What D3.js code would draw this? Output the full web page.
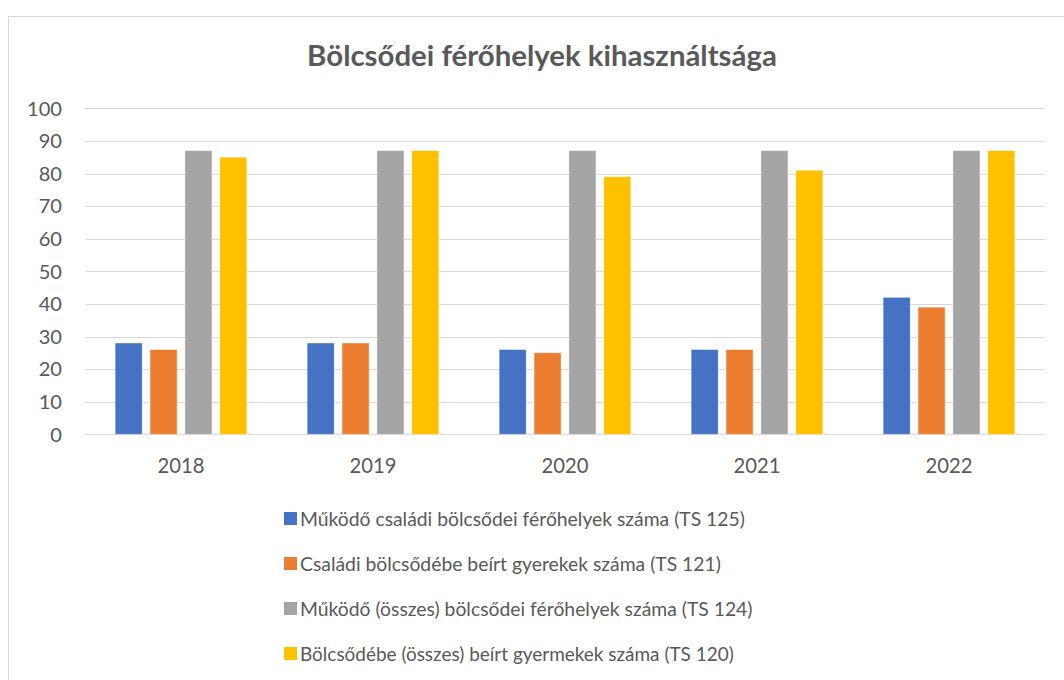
<!DOCTYPE html>
<html><head><meta charset="utf-8">
<script src="https://cdn.jsdelivr.net/npm/d3@7"></script>
<style>body{margin:0;background:#fff}svg{display:block}text{font-family:Lato,"Open Sans",sans-serif;fill:#595959}</style>
</head><body>
<script>
const years = ["2018","2019","2020","2021","2022"];
const seriesNames = [
  "Működő családi bölcsődei férőhelyek száma (TS 125)",
  "Családi bölcsődébe beírt gyerekek száma (TS 121)",
  "Működő (összes) bölcsődei férőhelyek száma (TS 124)",
  "Bölcsődébe (összes) beírt gyermekek száma (TS 120)"
];
const s1 = [28,28,26,26,42];
const s2 = [26,28,25,26,39];
const s3 = [87,87,87,87,87];
const s4 = [85,87,79,81,87];
const yTicks = [0,10,20,30,40,50,60,70,80,90,100];
const colors = ["#4472C4","#ED7D31","#A5A5A5","#FFC000"];
const title = "Bölcsődei férőhelyek kihasználtsága";

const W=1064,H=680;
const svg=d3.select("body").append("svg").attr("width",W).attr("height",H);
svg.append("rect").attr("x",8.5).attr("y",16.5).attr("width",1080).attr("height",700)
  .attr("fill","#fff").attr("stroke","#D9D9D9").attr("stroke-width",1);

const x=d3.scaleBand().domain(years).range([85,1045]).paddingInner(0).paddingOuter(0);
const y=d3.scaleLinear().domain([0,100]).range([434.3,108.3]);
const xs=d3.scaleBand().domain(d3.range(4)).range([0,x.bandwidth()]).paddingInner(0.226).paddingOuter(0.864);

// gridlines
svg.append("g").selectAll("line").data(yTicks).join("line")
  .attr("x1",85).attr("x2",1045).attr("y1",d=>Math.round(y(d))+0.5).attr("y2",d=>Math.round(y(d))+0.5)
  .attr("stroke","#D9D9D9").attr("stroke-width",1);

function fit(sel,target){
  sel.each(function(){const w=this.getComputedTextLength();const fs=parseFloat(d3.select(this).attr("font-size"));d3.select(this).attr("font-size",fs*target/w);});
}

// y labels
const yl=svg.append("g").selectAll("text").data(yTicks).join("text")
  .attr("x",62).attr("y",d=>y(d)).attr("dy","0.36em").attr("text-anchor","end")
  .attr("font-size",20).text(d=>d);
fit(yl.filter(d=>d===100),35);
yl.attr("font-size",yl.filter(d=>d===100).attr("font-size"));

// x labels
const xl=svg.append("g").selectAll("text").data(years).join("text")
  .attr("x",d=>x(d)+x.bandwidth()/2).attr("y",473).attr("text-anchor","middle")
  .attr("font-size",20.5).text(d=>d);
fit(xl,47);

const all=[s1,s2,s3,s4];
const g=svg.append("g");
all.forEach((s,i)=>{
  g.selectAll(null).data(years).join("rect")
   .attr("x",d=>x(d)+xs(i)).attr("width",xs.bandwidth())
   .attr("y",(d,j)=>y(s[j])).attr("height",(d,j)=>y(0)-y(s[j]))
   .attr("fill",colors[i]).attr("stroke","rgba(255,255,255,0.45)").attr("stroke-width",0.8);
});

// title
const t=svg.append("text").attr("x",542).attr("y",66).attr("text-anchor","middle")
  .attr("font-weight","bold").attr("font-size",26).text(title);
fit(t,470);

// legend
const lg=svg.append("g");
const rows=[519,564,609,654];
const targets=[445,421,453,434];
seriesNames.forEach((n,i)=>{
  lg.append("rect").attr("x",284).attr("y",rows[i]-7).attr("width",13).attr("height",13).attr("fill",colors[i]);
  const tt=lg.append("text").attr("x",300).attr("y",rows[i]).attr("dy","0.36em").attr("font-size",18).text(n);
  fit(tt,targets[i]);
});
</script>
</body></html>
